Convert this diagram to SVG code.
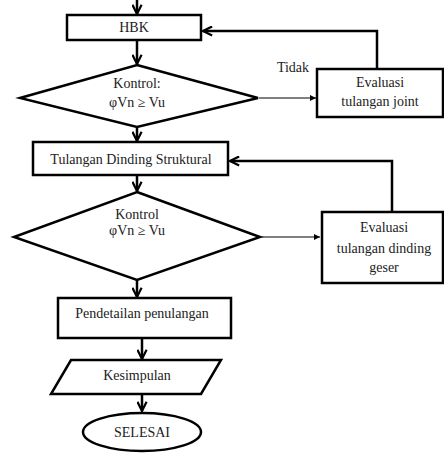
<svg xmlns="http://www.w3.org/2000/svg" width="444" height="453" viewBox="0 0 444 453">
<defs>
<marker id="v" viewBox="0 0 12 12" refX="11" refY="6" markerWidth="11" markerHeight="11" markerUnits="userSpaceOnUse" orient="auto">
<path d="M1,1 L11,6 L1,11" fill="none" stroke="#000" stroke-width="2.4"/>
</marker>
<marker id="t" viewBox="0 0 10 10" refX="10" refY="5" markerWidth="7" markerHeight="6" markerUnits="userSpaceOnUse" orient="auto">
<path d="M0,0 L10,5 L0,10 Z" fill="#000"/>
</marker>
<style>
.n{fill:#fff;stroke:#000;stroke-width:2.5}
.c{fill:none;stroke:#000;stroke-width:2.5}
.th{fill:none;stroke:#000;stroke-width:1.2}
text{font-family:"Liberation Serif",serif;font-size:14px;fill:#222;text-anchor:middle}
</style>
</defs>
<rect width="444" height="453" fill="#fff"/>
<g id="connectors">
<path class="c" d="M137,0 V14" marker-end="url(#v)"/>
<path class="c" d="M137,40 V64" marker-end="url(#v)"/>
<path class="th" d="M259,98 H316" marker-end="url(#t)"/>
<path class="c" d="M377,69 V31 H203" marker-end="url(#v)"/>
<path class="c" d="M137,128 V141" marker-end="url(#v)"/>
<path class="c" d="M137,175 V191" marker-end="url(#v)"/>
<path class="th" d="M262,237 H320" marker-end="url(#t)"/>
<path class="c" d="M392,212 V161 H230" marker-end="url(#v)"/>
<path class="c" d="M137,280 V297" marker-end="url(#v)"/>
<path class="c" d="M142,338 V359" marker-end="url(#v)"/>
<path class="c" d="M142,394 V411" marker-end="url(#v)"/>
</g>
<g id="hbk">
<rect class="n" x="67" y="15" width="134" height="25"/>
<text x="134" y="32">HBK</text>
</g>
<g id="kontrol1">
<polygon class="n" points="137,65 258,98 137,127 20,98"/>
<text x="137" y="88">Kontrol:</text>
<text x="137" y="107">φVn ≥  Vu</text>
</g>
<g id="tidak">
<text x="293" y="72">Tidak</text>
</g>
<g id="eval-joint">
<rect class="n" x="317" y="69" width="126" height="48"/>
<text x="380" y="87">Evaluasi</text>
<text x="380" y="106">tulangan joint</text>
</g>
<g id="tulangan">
<rect class="n" x="33" y="142" width="195" height="33"/>
<text x="131" y="164">Tulangan Dinding Struktural</text>
</g>
<g id="kontrol2">
<polygon class="n" points="137,192 260,237 137,280 14,237"/>
<text x="137" y="219">Kontrol</text>
<text x="137" y="235">φVn ≥  Vu</text>
</g>
<g id="eval-dinding">
<rect class="n" x="322" y="212" width="121" height="71"/>
<text x="384" y="232">Evaluasi</text>
<text x="384" y="253">tulangan dinding</text>
<text x="384" y="272">geser</text>
</g>
<g id="pendetailan">
<rect class="n" x="58" y="298" width="173" height="40"/>
<text x="142" y="318">Pendetailan penulangan</text>
</g>
<g id="kesimpulan">
<polygon class="n" points="71,360 221,360 201,394 51,394"/>
<text x="137" y="380">Kesimpulan</text>
</g>
<g id="selesai">
<ellipse class="n" cx="142" cy="432" rx="59" ry="19"/>
<text x="142" y="437">SELESAI</text>
</g>
</svg>
